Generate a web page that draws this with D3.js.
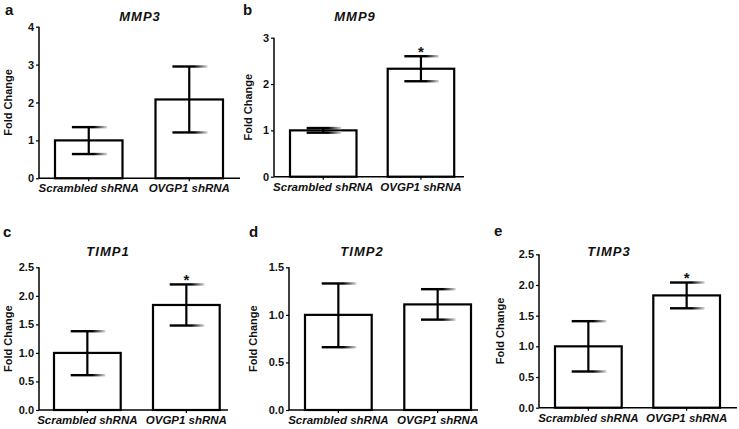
<!DOCTYPE html>
<html><head><meta charset="utf-8">
<script src="https://cdn.jsdelivr.net/npm/d3@7"></script>
<style>
html,body{margin:0;padding:0;background:#fff;}
svg{display:block;font-family:"Liberation Sans",Arial,sans-serif;}
</style></head>
<body>
<svg id="chart" width="739" height="429"></svg>
<script>
// ---- data ----
const categories = ["Scrambled shRNA", "OVGP1 shRNA"];
const panelLetters = ["a", "b", "c", "d", "e"];
const genes = ["MMP3", "MMP9", "TIMP1", "TIMP2", "TIMP3"];
const meanValues = [[1.00, 2.08], [1.00, 2.33], [1.00, 1.84], [1.00, 1.11], [1.00, 1.83]];
const errLow = [[0.64, 1.21], [0.95, 2.06], [0.61, 1.48], [0.66, 0.95], [0.59, 1.62]];
const errHigh = [[1.35, 2.95], [1.05, 2.60], [1.38, 2.20], [1.33, 1.27], [1.41, 2.04]];
const yMax = [4, 3, 2.5, 1.5, 2.5];
const yTickValues = [[0, 1, 2, 3, 4], [0, 1, 2, 3], [0, 0.5, 1.0, 1.5, 2.0, 2.5], [0, 0.5, 1.0, 1.5], [0, 0.5, 1.0, 1.5, 2.0, 2.5]];
const yTickFormats = ["d", "d", ".1f", ".1f", ".1f"];
const significant = [[false, false], [false, true], [false, true], [false, false], [false, true]];
const yLabel = "Fold Change";

// ---- layout (pixel frames of each panel) ----
const layout = [
  {axisX: 39,  y0: 178.3, yTop: 26.7,  xEnd: 240, barLeft: 55,  step: 100.5, bw: 67.5, letterX: 5,   letterY: 15,  titleX: 140, titleY: 21,  ylabX: 12},
  {axisX: 274, y0: 176.7, yTop: 37.7,  xEnd: 464, barLeft: 290, step: 97.7,  bw: 66.5, letterX: 243, letterY: 15,  titleX: 355, titleY: 21,  ylabX: 252},
  {axisX: 39,  y0: 410,   yTop: 267.3, xEnd: 228, barLeft: 54,  step: 99,    bw: 66.7, letterX: 3,   letterY: 237, titleX: 108, titleY: 256, ylabX: 12},
  {axisX: 289, y0: 410,   yTop: 267.3, xEnd: 478, barLeft: 305, step: 99.3,  bw: 66.7, letterX: 249, letterY: 237, titleX: 362, titleY: 256, ylabX: 257},
  {axisX: 539, y0: 407.7, yTop: 254.3, xEnd: 737, barLeft: 555, step: 98.3,  bw: 66.7, letterX: 494, letterY: 236, titleX: 609, titleY: 256, ylabX: 504}
];

const svg = d3.select("#chart");
const defs = svg.append("defs");
const grad = defs.append("linearGradient").attr("id", "capGrad")
  .attr("x1", "0%").attr("x2", "100%").attr("y1", "0%").attr("y2", "0%");
grad.append("stop").attr("offset", "0%").attr("stop-color", "#000");
grad.append("stop").attr("offset", "62%").attr("stop-color", "#000");
grad.append("stop").attr("offset", "100%").attr("stop-color", "#d8d8d8");

genes.forEach((gene, i) => {
  const L = layout[i];
  const g = svg.append("g");
  const y = d3.scaleLinear().domain([0, yMax[i]]).range([L.y0, L.yTop]);
  const x = d3.scaleBand().domain(categories)
    .range([L.barLeft, L.barLeft + L.step + L.bw])
    .paddingInner((L.step - L.bw) / L.step).paddingOuter(0);

  // panel letter
  g.append("text").attr("x", L.letterX).attr("y", L.letterY)
    .attr("font-size", 15).attr("font-weight", "bold").attr("fill", "#111")
    .text(panelLetters[i]);
  // title
  g.append("text").attr("x", L.titleX).attr("y", L.titleY)
    .attr("text-anchor", "middle").attr("font-size", 13).attr("font-weight", "bold")
    .attr("font-style", "italic").attr("letter-spacing", 1).attr("fill", "#111")
    .text(gene);
  // y label
  g.append("text")
    .attr("transform", `translate(${L.ylabX},${(L.y0 + L.yTop) / 2}) rotate(-90)`)
    .attr("text-anchor", "middle").attr("font-size", 11).attr("font-weight", "bold")
    .attr("fill", "#111").text(yLabel);

  // y axis
  const yAxis = d3.axisLeft(y).tickValues(yTickValues[i]).tickFormat(d3.format(yTickFormats[i]))
    .tickSize(3).tickPadding(2);
  const ya = g.append("g").attr("transform", `translate(${L.axisX},0)`).call(yAxis);
  ya.select(".domain").attr("stroke", "#000").attr("stroke-width", 1.5).attr("d", `M0,${L.y0}V${L.yTop}`);
  ya.selectAll(".tick line").attr("stroke", "#000").attr("stroke-width", 1.2);
  ya.selectAll(".tick text").attr("font-size", 11).attr("font-weight", "bold").attr("fill", "#111")
    .attr("font-family", "'Liberation Sans',Arial,sans-serif");

  // bars
  const rows = categories.map((c, j) => ({c, v: meanValues[i][j], lo: errLow[i][j], hi: errHigh[i][j], sig: significant[i][j]}));
  g.selectAll("rect.bar").data(rows).enter().append("rect").attr("class", "bar")
    .attr("x", d => x(d.c)).attr("width", x.bandwidth())
    .attr("y", d => y(d.v)).attr("height", d => y(0) - y(d.v))
    .attr("fill", "#fff").attr("stroke", "#000").attr("stroke-width", 2.2);

  // x axis
  const xAxis = d3.axisBottom(x).tickSize(3).tickPadding(3).tickSizeOuter(0);
  const xa = g.append("g").attr("transform", `translate(0,${L.y0})`).call(xAxis);
  xa.select(".domain").attr("stroke", "#000").attr("stroke-width", 1.5).attr("d", `M${L.axisX},0H${L.xEnd}`);
  xa.selectAll(".tick line").attr("stroke", "#000").attr("stroke-width", 1.2);
  xa.selectAll(".tick text").attr("font-size", 11.5).attr("font-weight", "bold").attr("font-style", "italic")
    .attr("fill", "#111").attr("font-family", "'Liberation Sans',Arial,sans-serif");

  // error bars
  const cx = d => x(d.c) + x.bandwidth() / 2;
  const capW = x.bandwidth() * 0.52;
  g.selectAll("line.whisker").data(rows).enter().append("line").attr("class", "whisker")
    .attr("x1", cx).attr("x2", cx).attr("y1", d => y(d.lo)).attr("y2", d => y(d.hi))
    .attr("stroke", "#000").attr("stroke-width", 2.2);
  rows.forEach(d => {
    [d.lo, d.hi].forEach(v => {
      g.append("rect").attr("x", cx(d) - capW * 0.48).attr("width", capW)
        .attr("y", y(v) - 1.2).attr("height", 2.4).attr("fill", "url(#capGrad)");
    });
    if (d.sig) {
      g.append("text").attr("x", cx(d)).attr("y", y(d.hi) + 0.5)
        .attr("text-anchor", "middle").attr("font-size", 15).attr("font-weight", "bold")
        .attr("fill", "#111").text("*");
    }
  });
});
</script>
</body></html>
